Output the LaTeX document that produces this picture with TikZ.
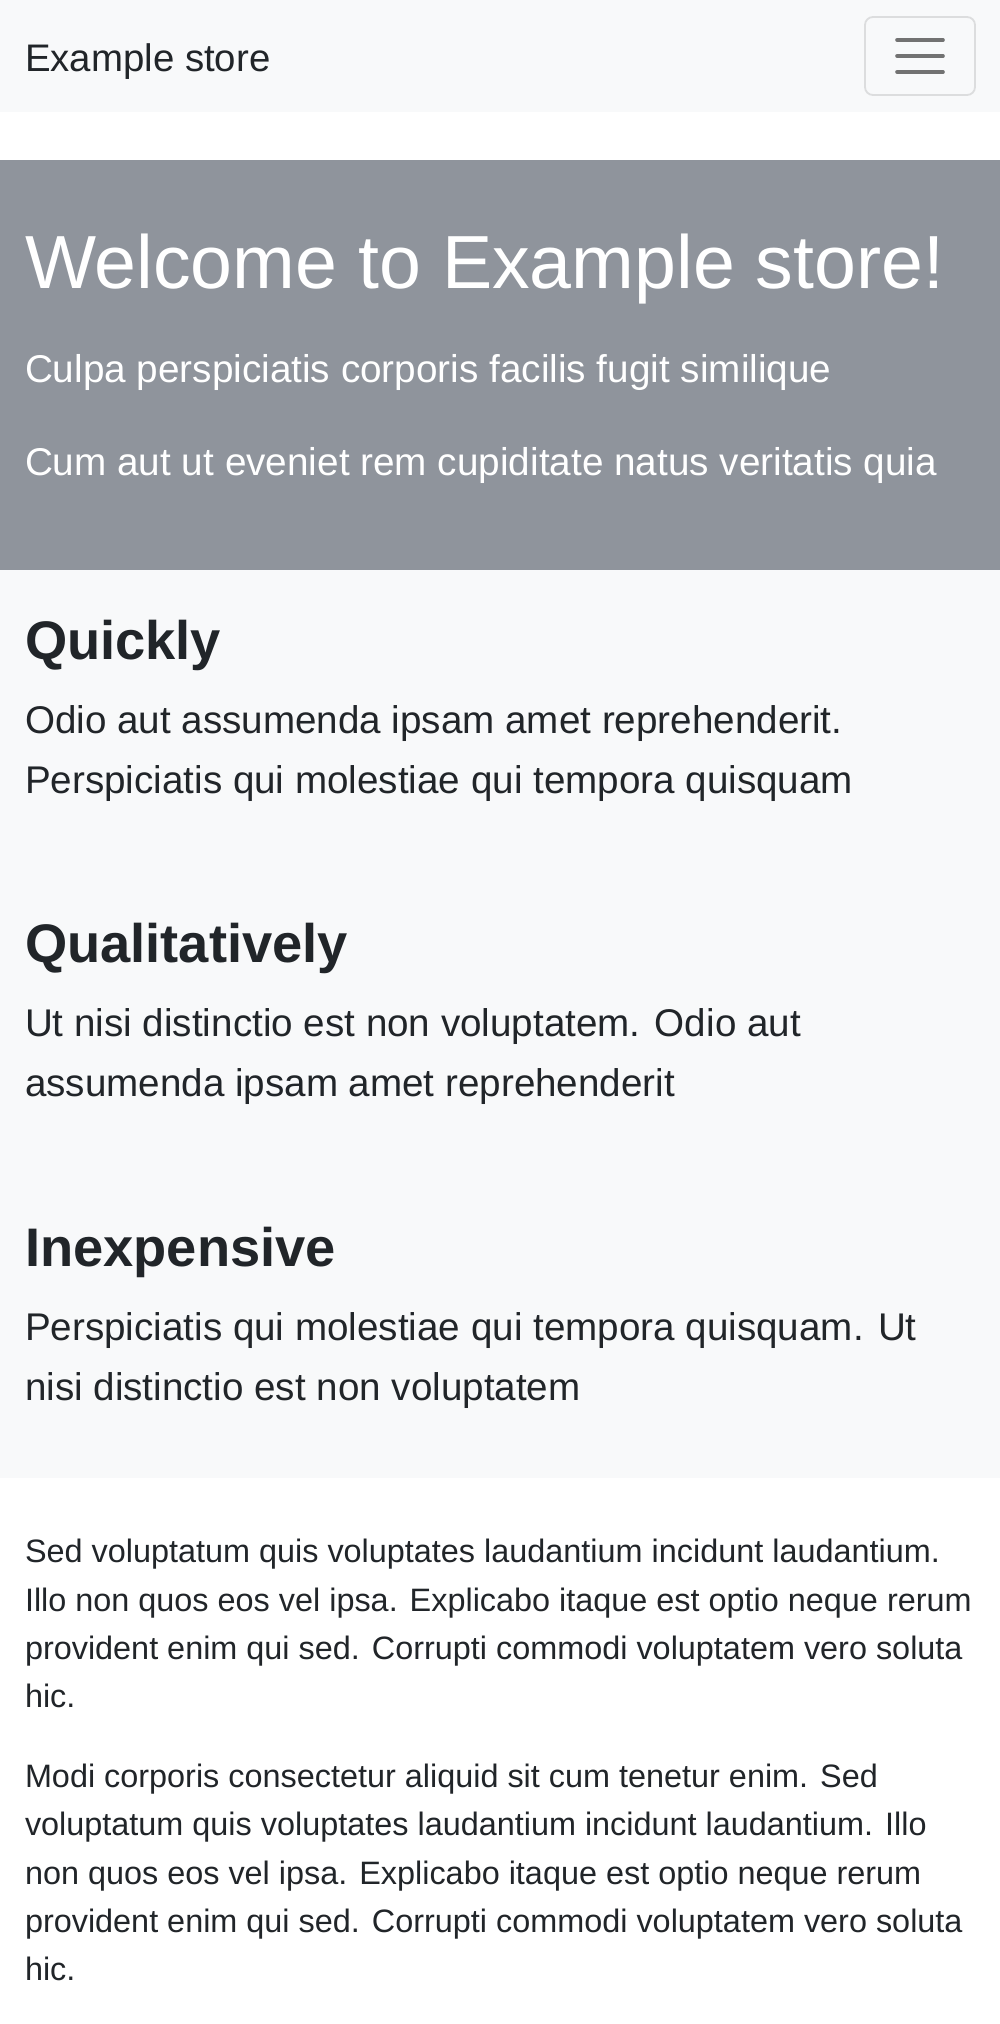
\documentclass[tikz,border=0pt]{standalone}
\usepackage{fontspec}
\setmainfont{Liberation Sans}
\definecolor{navbg}{HTML}{F8F9FA}
\definecolor{herobg}{HTML}{8F949C}
\definecolor{bodytext}{HTML}{212529}
\definecolor{tglborder}{HTML}{DCDDDE}
\definecolor{tglbar}{HTML}{727272}
\begin{document}
\begin{tikzpicture}[x=1pt,y=-1pt,
  txt/.style={anchor=base west,inner sep=0pt,outer sep=0pt,text=bodytext},
  brandtxt/.style={txt,font=\fontsize{38.4}{44}\selectfont},
  herotitle/.style={txt,text=white,font=\fontsize{75.3}{84}\selectfont},
  herolead/.style={txt,text=white,font=\fontsize{38.7}{46}\selectfont},
  headtxt/.style={txt,font=\bfseries\fontsize{54.3}{62}\selectfont},
  leadtxt/.style={txt,font=\fontsize{38.6}{46}\selectfont},
  bodytxt/.style={txt,font=\fontsize{32.4}{40}\selectfont},
  tglbox/.style={draw=tglborder,line width=1.8pt,rounded corners=8pt},
  tglline/.style={draw=tglbar,line width=3.6pt,line cap=round}]
\useasboundingbox (0,0) rectangle (1000,2024);
\fill[white] (0,0) rectangle (1000,2024);
% navbar
\fill[navbg] (0,0) rectangle (1000,112);
\node[brandtxt] (brand) at (25,71) {Example store};
\draw[tglbox] (865,17) rectangle (975,95);
\coordinate (b1l) at (897,40); \coordinate (b1r) at (943,40);
\coordinate (b2l) at (897,56); \coordinate (b2r) at (943,56);
\coordinate (b3l) at (897,72); \coordinate (b3r) at (943,72);
\draw[tglline] (b1l) -- (b1r);
\draw[tglline] (b2l) -- (b2r);
\draw[tglline] (b3l) -- (b3r);
% hero
\fill[herobg] (0,160) rectangle (1000,570);
\node[herotitle] (title) at (25,288) {Welcome to Example store!};
\node[herolead] (lead1) at (25,382) {Culpa perspiciatis corporis facilis fugit similique};
\node[herolead] (lead2) at (25,475) {Cum aut ut eveniet rem cupiditate natus veritatis quia};
% features
\fill[navbg] (0,570) rectangle (1000,1478);
\node[headtxt] (h1) at (25,659) {Quickly};
\node[leadtxt] (p1a) at (25,733) {Odio aut assumenda ipsam amet reprehenderit.};
\node[leadtxt] (p1b) at (25,793) {Perspiciatis qui molestiae qui tempora quisquam};
\node[headtxt] (h2) at (25,962) {Qualitatively};
\node[leadtxt] (p2a) at (25,1036) {Ut nisi distinctio est non voluptatem. Odio aut};
\node[leadtxt] (p2b) at (25,1096) {assumenda ipsam amet reprehenderit};
\node[headtxt] (h3) at (25,1266) {Inexpensive};
\node[leadtxt] (p3a) at (25,1340) {Perspiciatis qui molestiae qui tempora quisquam. Ut};
\node[leadtxt] (p3b) at (25,1400) {nisi distinctio est non voluptatem};
% bottom paragraphs
\node[bodytxt] (q1a) at (25,1562) {Sed voluptatum quis voluptates laudantium incidunt laudantium.};
\node[bodytxt] (q1b) at (25,1611) {Illo non quos eos vel ipsa. Explicabo itaque est optio neque rerum};
\node[bodytxt] (q1c) at (25,1659) {provident enim qui sed. Corrupti commodi voluptatem vero soluta};
\node[bodytxt] (q1d) at (25,1707) {hic.};
\node[bodytxt] (q2a) at (25,1787) {Modi corporis consectetur aliquid sit cum tenetur enim. Sed};
\node[bodytxt] (q2b) at (25,1835) {voluptatum quis voluptates laudantium incidunt laudantium. Illo};
\node[bodytxt] (q2c) at (25,1884) {non quos eos vel ipsa. Explicabo itaque est optio neque rerum};
\node[bodytxt] (q2d) at (25,1932) {provident enim qui sed. Corrupti commodi voluptatem vero soluta};
\node[bodytxt] (q2e) at (25,1980) {hic.};
\end{tikzpicture}
\end{document}
